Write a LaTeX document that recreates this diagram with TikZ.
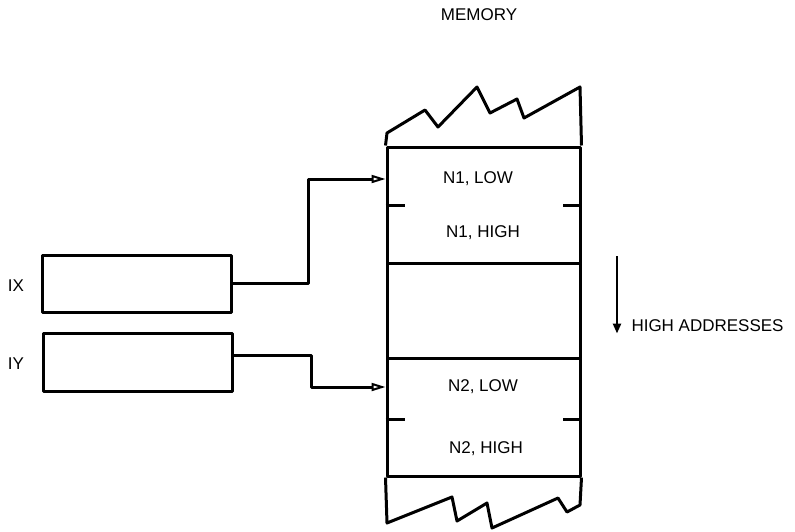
\documentclass[tikz,border=0pt]{standalone}
\usepackage{fontspec}
\setmainfont{Liberation Sans}
\usetikzlibrary{arrows.meta,positioning}

\begin{document}
\begin{tikzpicture}[
        x=1pt, y=-1pt,
        line width=3pt, line join=round,
        every node/.style={font=\fontsize{17}{19}\selectfont, inner sep=0pt},
        reg/.style={draw, minimum width=189pt, minimum height=57pt},
        cell/.style={draw, minimum width=193pt},
        conn/.style={-{Triangle[open, length=14pt, width=8pt, line width=2pt]}},
        down/.style={-{Triangle[length=10pt, width=8pt]}}
    ]
    \useasboundingbox (0,0) rectangle (795,531);

    \node (memlabel) at (479,15) {MEMORY};

    % memory cells
    \node (n1cell) [cell, minimum height=116pt] at (483.5,205) {};
    \node (gapcell) [cell, minimum height=95pt] at (483.5,310.5) {};
    \node (n2cell) [cell, minimum height=118pt] at (483.5,417) {};

    \node (n1low) at (478,179) {N1, LOW};
    \node (n1high) at (483,233) {N1, HIGH};
    \node (n2low) at (483,387) {N2, LOW};
    \node (n2high) at (486,449) {N2, HIGH};

    \draw (n1cell.west) -- ++(19,0);
    \draw (n1cell.east) -- ++(-19,0);
    \draw ([yshift=-2pt]n2cell.west) -- ++(19,0);
    \draw ([yshift=-2pt]n2cell.east) -- ++(-19,0);

    % broken ends
    \draw (n1cell.north west) -- (387,133) -- (425,110) -- (438,127) -- (477,87)
        -- (490,113) -- (517,99) -- (524,118) -- (580,87) -- (n1cell.north east);
    \draw (n2cell.south west) -- (387,523) -- (452,497) -- (457,521) -- (487,503)
        -- (492,528) -- (558,498) -- (567,512) -- (580,505) -- (n2cell.south east);

    % index registers
    \node (ixreg) [reg] at (136.5,283.5) {};
    \node (iyreg) [reg, minimum height=58pt] at (137.5,362) {};
    \node (ixlabel) at (16,286) {IX};
    \node (iylabel) at (16,364) {IY};

    \draw[conn] (ixreg.east) -- ++(76,0) |- (n1low -| n1cell.west);
    \draw[conn] ([yshift=7pt]iyreg.east) -- ++(78,0) |- (n2low -| n2cell.west);

    % direction
    \node (hiaddr) [anchor=west] at (630,326) {HIGH ADDRESSES};
    \coordinate (hitop) at (617,256);
    \draw[down, line width=2.4pt] (hitop) -- (hitop |- hiaddr.south);
\end{tikzpicture}
\end{document}
